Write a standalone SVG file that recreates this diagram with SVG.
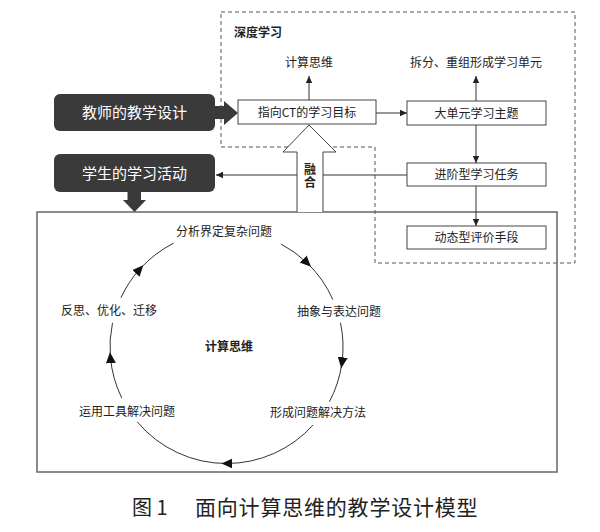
<svg xmlns="http://www.w3.org/2000/svg" width="600" height="532" viewBox="0 0 600 532">
<style>
text{font-family:"Noto Sans CJK SC","Noto Sans",sans-serif;fill:#222}
.t{font-size:12px;text-anchor:middle}
.b{font-weight:bold}
.w{font-size:15px;fill:#fff;text-anchor:middle}
.box{fill:#fff;stroke:#444;stroke-width:1}
.dark{fill:#3a3a3a}
.ln{fill:none;stroke:#333;stroke-width:1}
.arc{fill:none;stroke:#333;stroke-width:1;marker-mid:url(#ca)}
</style>
<defs>
<marker id="ah" markerWidth="8" markerHeight="8" refX="7" refY="4" orient="auto" markerUnits="userSpaceOnUse"><path d="M0,0.8 L7,4 L0,7.2 Z" fill="#222"/></marker>
<marker id="ca" markerWidth="12" markerHeight="12" refX="6" refY="5" orient="auto" markerUnits="userSpaceOnUse"><path d="M0,0 L11,5 L0,10 Z" fill="#111"/></marker>
</defs>
<rect width="600" height="532" fill="#fff"/>
<g id="deep-learning-region">
<path d="M221,12 H575 V263 H375 V147 H221 Z" fill="none" stroke="#555" stroke-width="1" stroke-dasharray="4,3"/>
<text x="234" y="37" class="b" font-size="12">深度学习</text>
</g>
<g id="main-box">
<rect x="37" y="212" width="520" height="260" fill="none" stroke="#666" stroke-width="1.5"/>
</g>
<g id="connectors">
<line class="ln" x1="309" y1="100" x2="309" y2="76" marker-end="url(#ah)"/>
<line class="ln" x1="476" y1="101" x2="476" y2="76" marker-end="url(#ah)"/>
<line class="ln" x1="376" y1="113" x2="407" y2="113" marker-end="url(#ah)"/>
<line class="ln" x1="476" y1="125" x2="476" y2="163" marker-end="url(#ah)"/>
<line class="ln" x1="476" y1="186" x2="476" y2="226" marker-end="url(#ah)"/>
<line class="ln" x1="407" y1="175" x2="216" y2="175" marker-end="url(#ah)"/>
<path class="dark" d="M212,106 H224 V101 L238,113 L224,125 V119 H212 Z"/>
<path class="dark" d="M127.5,190 H141 V200 H146 L134.5,212 L123,200 H127.5 Z"/>
<path d="M297,212 V152 H283 L309,125 L336,152 H323 V212" fill="#fff" stroke="#444" stroke-width="1"/>
<path class="arc" d="M120.9,297.8 A116.5,116.5 0 0 1 139.9,269 A116.5,116.5 0 0 1 173.6,243.2"/>
<path class="arc" d="M281.2,244.1 A116.5,116.5 0 0 1 307.4,263.2 A116.5,116.5 0 0 1 332.9,299.6"/>
<path class="arc" d="M340.5,322.8 A116.5,116.5 0 0 1 341.9,363.2 A116.5,116.5 0 0 1 329.4,401.7"/>
<path class="arc" d="M313.1,425 A116.5,116.5 0 0 1 226.5,463.5 A116.5,116.5 0 0 1 137.3,421.9"/>
<path class="arc" d="M121.8,398.1 A116.5,116.5 0 0 1 110.4,357.2 A116.5,116.5 0 0 1 112.5,322.8"/>
</g>
<g id="fusion-label">
<text x="310" y="176" class="t b" font-size="13" writing-mode="tb" letter-spacing="1">融合</text>
</g>
<g id="teacher-design">
<rect x="54" y="94" width="161" height="37" rx="6" class="dark"/>
<text x="134.5" y="118" class="w">教师的教学设计</text>
</g>
<g id="student-activity">
<rect x="54" y="154" width="161" height="38" rx="6" class="dark"/>
<text x="134.5" y="178.5" class="w">学生的学习活动</text>
</g>
<g id="ct-top">
<text x="309" y="67" class="t">计算思维</text>
</g>
<g id="split-units">
<text x="476" y="67" class="t">拆分、重组形成学习单元</text>
</g>
<g id="ct-goal">
<rect x="238" y="100" width="138" height="24" class="box"/>
<text x="307" y="117" class="t">指向CT的学习目标</text>
</g>
<g id="big-unit">
<rect x="407" y="101" width="139" height="24" class="box"/>
<text x="476.5" y="117.5" class="t">大单元学习主题</text>
</g>
<g id="progressive-tasks">
<rect x="407" y="163" width="139" height="23" class="box"/>
<text x="476.5" y="179" class="t">进阶型学习任务</text>
</g>
<g id="dynamic-eval">
<rect x="407" y="226" width="139" height="23" class="box"/>
<text x="476.5" y="242" class="t">动态型评价手段</text>
</g>
<g id="cycle-analyze"><text x="224" y="236" class="t">分析界定复杂问题</text></g>
<g id="cycle-abstract"><text x="339" y="316" class="t">抽象与表达问题</text></g>
<g id="cycle-method"><text x="318" y="417" class="t">形成问题解决方法</text></g>
<g id="cycle-tools"><text x="127" y="416" class="t">运用工具解决问题</text></g>
<g id="cycle-reflect"><text x="109" y="315" class="t">反思、优化、迁移</text></g>
<g id="cycle-center"><text x="229" y="351" class="t b">计算思维</text></g>
<g id="caption">
<text x="132" y="515" font-size="20">图 1</text>
<text x="195" y="515" font-size="21" letter-spacing="0.8">面向计算思维的教学设计模型</text>
</g>
</svg>
